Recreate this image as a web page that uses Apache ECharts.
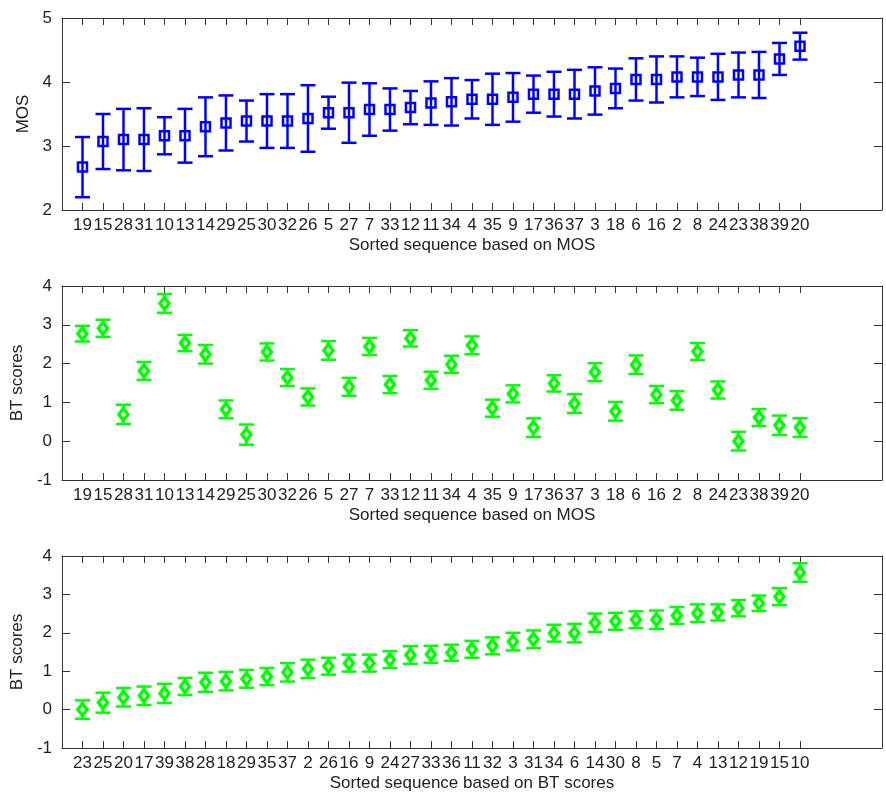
<!DOCTYPE html>
<html><head><meta charset="utf-8">
<script src="https://cdn.jsdelivr.net/npm/echarts@6/dist/echarts.min.js"></script>
<style>html,body{margin:0;padding:0;background:#fff}#c{width:886px;height:796px}</style>
</head><body><div id="c"></div>
<script>
// Panel 1: MOS sorted by MOS
const mosCats = [19,15,28,31,10,13,14,29,25,30,32,26,5,27,7,33,12,11,34,4,35,9,17,36,37,3,18,6,16,2,8,24,23,38,39,20];
const mosMean = [2.67,3.07,3.10,3.10,3.16,3.16,3.30,3.36,3.39,3.39,3.39,3.43,3.52,3.52,3.57,3.57,3.60,3.67,3.69,3.73,3.73,3.76,3.81,3.81,3.81,3.86,3.90,4.04,4.04,4.08,4.08,4.08,4.11,4.11,4.36,4.56];
const mosErr  = [0.47,0.43,0.48,0.49,0.29,0.42,0.46,0.43,0.32,0.42,0.42,0.52,0.25,0.47,0.41,0.33,0.26,0.34,0.37,0.30,0.40,0.38,0.29,0.35,0.38,0.37,0.31,0.33,0.36,0.32,0.30,0.36,0.35,0.36,0.25,0.21];
// Panel 2: BT scores in MOS order
const btByMos    = [2.77,2.91,0.69,1.81,3.55,2.53,2.24,0.82,0.17,2.30,1.64,1.14,2.34,1.40,2.44,1.46,2.65,1.57,1.98,2.47,0.85,1.22,0.35,1.49,0.97,1.78,0.77,1.97,1.20,1.05,2.31,1.32,0.00,0.61,0.41,0.35];
const btErrByMos = [0.20,0.22,0.25,0.23,0.24,0.21,0.24,0.23,0.26,0.22,0.22,0.22,0.24,0.23,0.22,0.22,0.21,0.22,0.22,0.23,0.22,0.22,0.24,0.21,0.24,0.23,0.24,0.24,0.22,0.24,0.22,0.22,0.24,0.22,0.25,0.24];
// Panel 3: BT scores sorted by BT
const btCats      = [23,25,20,17,39,38,28,18,29,35,37,2,26,16,9,24,27,33,36,11,32,3,31,34,6,14,30,8,5,7,4,13,12,19,15,10];
const btSorted    = [0.00,0.18,0.32,0.36,0.42,0.60,0.71,0.74,0.80,0.86,0.97,1.06,1.13,1.21,1.21,1.30,1.42,1.44,1.48,1.57,1.66,1.77,1.83,1.99,1.99,2.26,2.30,2.34,2.34,2.45,2.51,2.53,2.64,2.77,2.94,3.57];
const btSortedErr = [0.24,0.26,0.24,0.24,0.25,0.22,0.25,0.24,0.23,0.22,0.24,0.24,0.22,0.22,0.22,0.22,0.23,0.22,0.21,0.22,0.22,0.23,0.23,0.22,0.24,0.24,0.22,0.22,0.24,0.22,0.23,0.21,0.21,0.20,0.22,0.24];

const mosTicks = [2,3,4,5];
const btTicks = [-1,0,1,2,3,4];
const xNames = ['Sorted sequence based on MOS','Sorted sequence based on MOS','Sorted sequence based on BT scores'];
const yNames = ['MOS','BT scores','BT scores'];

const FONT = 'Liberation Sans, Arial, sans-serif';
const FS = 17;
const TXT = '#222';
const AX = '#333';
const positions = mosCats.map((_, i) => i + 1);

const panels = [
  {cats: mosCats, mean: mosMean, err: mosErr, color: '#0000ff', symbol: 'rect', yMin: 2, yMax: 5, top: 18, height: 192},
  {cats: mosCats, mean: btByMos, err: btErrByMos, color: '#00ff00', symbol: 'diamond', yMin: -1, yMax: 4, top: 286, height: 194},
  {cats: btCats, mean: btSorted, err: btSortedErr, color: '#00ff00', symbol: 'diamond', yMin: -1, yMax: 4, top: 556, height: 192}
];

const grid = [], xAxis = [], yAxis = [], series = [];
panels.forEach((p, k) => {
  grid.push({left: 62, right: 4, top: p.top, height: p.height, containLabel: false});
  const baseX = {
    gridIndex: k, type: 'value', min: 0, max: 40,
    axisLine: {show: true, onZero: false, lineStyle: {color: AX, width: 1}},
    splitLine: {show: false}
  };
  xAxis.push(Object.assign({}, baseX, {
    position: 'bottom',
    axisTick: {show: true, inside: true, length: 7, lineStyle: {color: AX}, customValues: positions},
    axisLabel: {show: true, customValues: positions, margin: 7, fontSize: FS, fontFamily: FONT, color: TXT,
      formatter: v => { const i = Math.round(v) - 1; return (i >= 0 && i < p.cats.length) ? String(p.cats[i]) : ''; }},
    name: xNames[k], nameLocation: 'middle', nameGap: 27,
    nameTextStyle: {fontSize: FS, fontFamily: FONT, color: TXT}
  }));
  xAxis.push(Object.assign({}, baseX, {
    position: 'top',
    axisTick: {show: true, inside: true, length: 7, lineStyle: {color: AX}, customValues: positions},
    axisLabel: {show: false}
  }));
  const ticks = k === 0 ? mosTicks : btTicks;
  const baseY = {
    gridIndex: k, type: 'value', min: p.yMin, max: p.yMax, interval: 1,
    axisLine: {show: true, onZero: false, lineStyle: {color: AX, width: 1}},
    splitLine: {show: false}
  };
  yAxis.push(Object.assign({}, baseY, {
    position: 'left',
    axisTick: {show: true, inside: true, length: 8, lineStyle: {color: AX}, customValues: ticks},
    axisLabel: {show: true, customValues: ticks, margin: 10, fontSize: FS, fontFamily: FONT, color: TXT},
    name: yNames[k], nameLocation: 'middle', nameGap: 24, nameRotate: 90,
    nameTextStyle: {fontSize: FS, fontFamily: FONT, color: TXT}
  }));
  yAxis.push(Object.assign({}, baseY, {
    position: 'right',
    axisTick: {show: true, inside: true, length: 8, lineStyle: {color: AX}, customValues: ticks},
    axisLabel: {show: false}
  }));

  const errData = p.mean.map((m, i) => [i + 1, m - p.err[i], m + p.err[i]]);
  const color = p.color;
  series.push({
    type: 'custom', xAxisIndex: 2 * k, yAxisIndex: 2 * k, data: errData, silent: true,
    renderItem: (params, api) => {
      const x = api.value(0), lo = api.value(1), hi = api.value(2);
      const a = api.coord([x, hi]), b = api.coord([x, lo]);
      const w = 7.5;
      const st = {stroke: color, lineWidth: 2.5, fill: null};
      return {type: 'group', children: [
        {type: 'line', shape: {x1: a[0], y1: a[1], x2: b[0], y2: b[1]}, style: st},
        {type: 'line', shape: {x1: a[0] - w, y1: a[1], x2: a[0] + w, y2: a[1]}, style: st},
        {type: 'line', shape: {x1: b[0] - w, y1: b[1], x2: b[0] + w, y2: b[1]}, style: st}
      ]};
    },
    z: 2
  });
  const isRect = p.symbol === 'rect';
  series.push({
    type: 'scatter', xAxisIndex: 2 * k, yAxisIndex: 2 * k,
    data: p.mean.map((m, i) => [i + 1, m]),
    symbol: p.symbol, symbolSize: isRect ? 9 : [9, 12],
    itemStyle: {color: isRect ? 'rgba(255,255,255,0)' : '#ffffff', borderColor: color, borderWidth: isRect ? 2.5 : 3.5, opacity: 1},
    silent: true, z: 3
  });
});

const chart = echarts.init(document.getElementById('c'), null, {renderer: 'canvas'});
chart.setOption({animation: false, backgroundColor: '#fff', grid, xAxis, yAxis, series});
</script>
</body></html>
